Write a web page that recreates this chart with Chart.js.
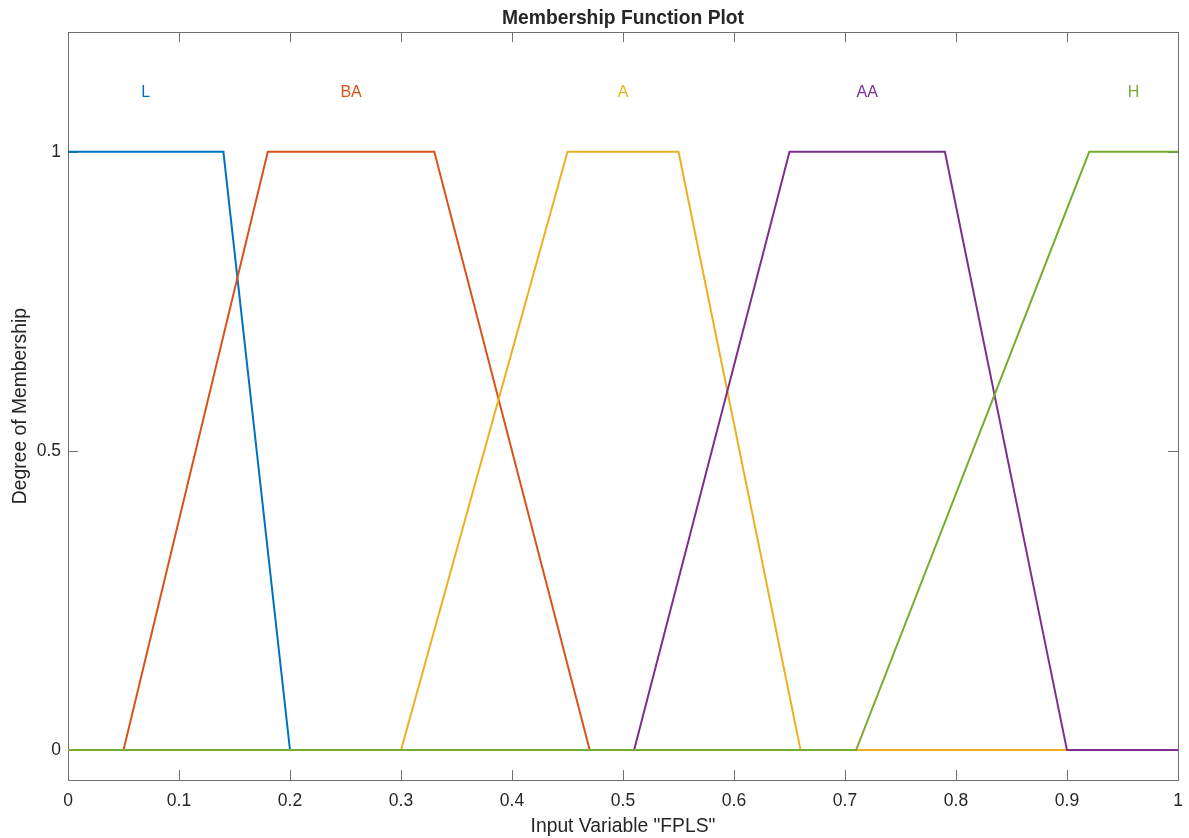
<!DOCTYPE html>
<html lang="en">
<head>
  <meta charset="UTF-8">
  <title>Membership Function Plot</title>
  <style>
    html, body { margin: 0; padding: 0; background: #fff; }
    #wrap { width: 1189px; height: 838px; }
  </style>
</head>
<body>
  <div id="wrap"><canvas id="mfChart" width="1189" height="838"></canvas></div>

  <script src="https://cdn.jsdelivr.net/npm/chart.js@4.4.1/dist/chart.umd.min.js"></script>
  <script>
    // membership functions (breakpoints)
    const mfNames  = ['L', 'BA', 'A', 'AA', 'H'];
    const mfColors = ['#0072BD', '#D95319', '#EDB120', '#7E2F8E', '#77AC30'];

    const xL  = [0, 0.14, 0.20, 1];
    const yL  = [1, 1, 0, 0];
    const xBA = [0, 0.05, 0.18, 0.33, 0.47, 1];
    const yBA = [0, 0, 1, 1, 0, 0];
    const xA  = [0, 0.30, 0.45, 0.55, 0.66, 1];
    const yA  = [0, 0, 1, 1, 0, 0];
    const xAA = [0, 0.51, 0.65, 0.79, 0.90, 1];
    const yAA = [0, 0, 1, 1, 0, 0];
    const xH  = [0, 0.71, 0.92, 1];
    const yH  = [0, 0, 1, 1];

    // where the names are written
    const labelX = [0.07, 0.255, 0.50, 0.72, 0.96];
    const labelY = 1.1;

    const xTicks = [0, 0.1, 0.2, 0.3, 0.4, 0.5, 0.6, 0.7, 0.8, 0.9, 1];
    const yTicks = [0, 0.5, 1];

    const FONT = "'Liberation Sans', Arial, Helvetica, sans-serif";
    const AXIS = '#707070';
    const TEXT = '#262626';

    const xs = [xL, xBA, xA, xAA, xH];
    const ys = [yL, yBA, yA, yAA, yH];

    const datasets = mfNames.map((name, i) => ({
      label: name,
      data: xs[i].map((x, k) => ({ x: x, y: ys[i][k] })),
      borderColor: mfColors[i],
      backgroundColor: mfColors[i],
      borderWidth: 2,
      pointRadius: 0,
      tension: 0,
      fill: false,
      order: mfNames.length - i // later MFs drawn on top
    }));

    // box and inward ticks under the lines, MF names on top
    const boxPlugin = {
      id: 'boxPlugin',
      beforeDatasetsDraw(chart) {
        const { ctx, chartArea: a, scales } = chart;
        ctx.save();
        ctx.strokeStyle = AXIS;
        ctx.lineWidth = 1;
        ctx.strokeRect(Math.round(a.left) + 0.5, Math.round(a.top) + 0.5,
          Math.round(a.right - a.left), Math.round(a.bottom - a.top));
        ctx.beginPath();
        xTicks.forEach(v => {
          const px = Math.round(scales.x.getPixelForValue(v)) + 0.5;
          ctx.moveTo(px, a.bottom); ctx.lineTo(px, a.bottom - 10);
          ctx.moveTo(px, a.top); ctx.lineTo(px, a.top + 10);
        });
        yTicks.forEach(v => {
          const py = Math.round(scales.y.getPixelForValue(v)) + 0.5;
          ctx.moveTo(a.left, py); ctx.lineTo(a.left + 10, py);
          ctx.moveTo(a.right, py); ctx.lineTo(a.right - 10, py);
        });
        ctx.stroke();
        ctx.restore();
      },
      afterDatasetsDraw(chart) {
        const { ctx, scales } = chart;
        ctx.save();
        ctx.font = '16px ' + FONT;
        ctx.textAlign = 'center';
        ctx.textBaseline = 'middle';
        mfNames.forEach((name, i) => {
          ctx.fillStyle = mfColors[i];
          ctx.fillText(name, scales.x.getPixelForValue(labelX[i]), scales.y.getPixelForValue(labelY) + 1);
        });
        ctx.restore();
      }
    };

    new Chart(document.getElementById('mfChart'), {
      type: 'line',
      data: { datasets: datasets },
      options: {
        responsive: false,
        animation: false,
        events: [],
        layout: { padding: { left: 0, right: 11, top: 0, bottom: 0 } },
        plugins: {
          legend: { display: false },
          tooltip: { enabled: false },
          title: {
            display: true,
            text: 'Membership Function Plot',
            fullSize: false,
            color: TEXT,
            font: { family: FONT, size: 19.3, weight: 'bold', lineHeight: 1.2 },
            padding: { top: 7, bottom: 2 }
          }
        },
        scales: {
          x: {
            type: 'linear',
            min: 0,
            max: 1,
            afterBuildTicks: s => { s.ticks = xTicks.map(v => ({ value: v })); },
            afterFit: s => { s.height = 58; s.paddingLeft = 0; s.paddingRight = 0; },
            grid: { display: false, drawTicks: false, tickLength: 0 },
            border: { display: false },
            ticks: {
              color: TEXT,
              padding: 11,
              maxRotation: 0,
              autoSkip: false,
              font: { family: FONT, size: 17.5 },
              callback: v => String(Math.round(v * 10) / 10)
            },
            title: {
              display: true,
              text: 'Input Variable "FPLS"',
              color: TEXT,
              font: { family: FONT, size: 19.3, lineHeight: 1.2 },
              padding: { top: 0, bottom: 0 }
            }
          },
          y: {
            type: 'linear',
            min: -0.05,
            max: 1.2,
            afterBuildTicks: s => { s.ticks = yTicks.map(v => ({ value: v })); },
            afterFit: s => { s.width = 68; s.paddingTop = 0; s.paddingBottom = 0; },
            grid: { display: false, drawTicks: false, tickLength: 0 },
            border: { display: false },
            ticks: {
              color: TEXT,
              padding: 7,
              autoSkip: false,
              font: { family: FONT, size: 17.5 },
              callback: v => String(v)
            },
            title: {
              display: true,
              text: 'Degree of Membership',
              color: TEXT,
              font: { family: FONT, size: 19.3, lineHeight: 1.2 },
              padding: { top: 9, bottom: 0 }
            }
          }
        }
      },
      plugins: [boxPlugin]
    });
  </script>
</body>
</html>
